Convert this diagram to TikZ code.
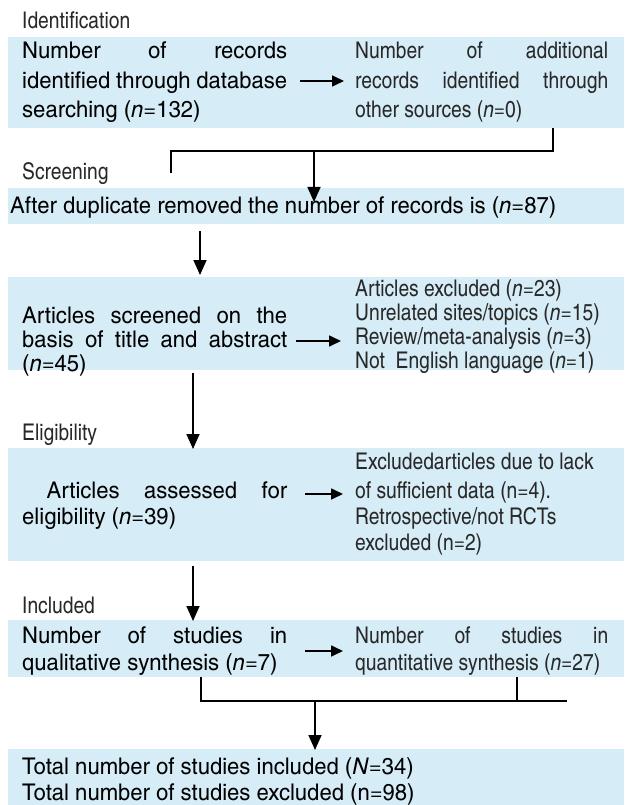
\documentclass[tikz,border=0pt]{standalone}
\usepackage{fontspec}
\setmainfont{texgyreheroscn}[Extension=.otf, UprightFont=*-regular, BoldFont=*-bold, ItalicFont=*-italic, BoldItalicFont=*-bolditalic, FakeStretch=1.17]
\newfontfamily\lightcn{texgyreheroscn}[Extension=.otf, UprightFont=*-regular, BoldFont=*-bold, ItalicFont=*-italic, BoldItalicFont=*-bolditalic, FakeStretch=1.02]
\usetikzlibrary{arrows.meta}
\definecolor{bandblue}{RGB}{214,236,246}
\definecolor{lighttext}{RGB}{40,40,40}
\tikzset{
  band/.style={fill=bandblue, draw=none, inner sep=0pt, minimum width=616pt, anchor=north west},
  txt/.style={anchor=base west, inner sep=0pt, font=\fontsize{23}{23}\selectfont},
  ltxt/.style={anchor=base west, inner sep=0pt, text=lighttext, font=\lightcn\fontsize{23}{23}\selectfont},
  stage/.style={ltxt},
  arr/.style={line width=1.7pt, -{Triangle[length=15pt,width=13pt]}},
  sarr/.style={line width=1.7pt, -{Triangle[length=12pt,width=11pt]}},
  link/.style={line width=1.2pt}
}
\newcommand{\jl}[2]{\makebox[#1][s]{#2}}
\begin{document}
\begin{tikzpicture}[x=1pt,y=-1pt]
\useasboundingbox (0,0) rectangle (624,805);
% bands
\node[band, minimum height=91pt] (b1) at (8,37) {};
\node[band, minimum height=36pt] (b2) at (8,188) {};
\node[band, minimum height=93pt] (b3) at (8,277) {};
\node[band, minimum height=113pt] (b4) at (8,448) {};
\node[band, minimum height=57pt] (b5) at (8,620) {};
\node[band, minimum height=56pt] (b6) at (8,749) {};
% stage labels
\node[stage] (s1) at (22,29) {Identification};
\node[stage] (s2) at (22,179) {Screening};
\node[stage] (s3) at (22,440) {Eligibility};
\node[stage] (s4) at (22,613) {Included};
% band 1
\node[txt] (l11) at (22,59) {\jl{265pt}{Number of records}};
\node[txt] (l12) at (22,89) {\jl{265pt}{identified through database}};
\node[txt] (l13) at (22,118) {searching (\textit{n}=132)};
\node[ltxt] (r11) at (355,59) {\jl{253pt}{Number of additional}};
\node[ltxt] (r12) at (355,89) {\jl{253pt}{records identified through}};
\node[ltxt] (r13) at (355,118) {other sources (\textit{n}=0)};
\coordinate (a1s) at (300,81); \coordinate (a1e) at (344,81);
\draw[sarr] (a1s) -- (a1e);
% connector 1 -> 2
\coordinate (c1a) at (553,128); \coordinate (c1b) at (553,151);
\coordinate (c1c) at (171,151); \coordinate (c1d) at (171,173);
\coordinate (c1m) at (314,151); \coordinate (c1t) at (314,202);
\draw[link] (c1a) -- (c1b) -- (c1c) -- (c1d);
\draw[arr] (c1m) -- (c1t);
% band 2
\node[txt] (t2) at (10,213) {After duplicate removed the number of records is (\textit{n}=87)};
\coordinate (a2s) at (200,231); \coordinate (a2e) at (200,275);
\draw[arr] (a2s) -- (a2e);
% band 3
\node[txt] (l31) at (22,323) {\jl{265pt}{Articles screened on the}};
\node[txt] (l32) at (22,347) {\jl{265pt}{basis of title and abstract}};
\node[txt] (l33) at (22,371) {(\textit{n}=45)};
\node[ltxt] (r31) at (355,296) {Articles excluded (\textit{n}=23)};
\node[ltxt] (r32) at (355,320) {Unrelated sites/topics (\textit{n}=15)};
\node[ltxt] (r33) at (355,344) {Review/meta-analysis (\textit{n}=3)};
\node[ltxt] (r34) at (355,368) {Not\ \ English language (\textit{n}=1)};
\coordinate (a3s) at (296,341); \coordinate (a3e) at (341,341);
\draw[sarr] (a3s) -- (a3e);
\coordinate (a4s) at (193,373); \coordinate (a4e) at (193,449);
\draw[arr] (a4s) -- (a4e);
% band 4
\node[txt] (l41) at (22,498) {\jl{265pt}{\ Articles assessed for}};
\node[txt] (l42) at (22,524) {eligibility (\textit{n}=39)};
\node[ltxt] (r41) at (355,469) {Excludedarticles due to lack};
\node[ltxt] (r42) at (355,498) {of sufficient data (n=4).};
\node[ltxt] (r43) at (355,524) {Retrospective/not RCTs};
\node[ltxt] (r44) at (355,550) {excluded (n=2)};
\coordinate (a5s) at (305,494); \coordinate (a5e) at (343,494);
\draw[sarr] (a5s) -- (a5e);
\coordinate (a6s) at (193,566); \coordinate (a6e) at (193,621);
\draw[arr] (a6s) -- (a6e);
% band 5
\node[txt] (l51) at (22,643) {\jl{265pt}{Number of studies in}};
\node[txt] (l52) at (22,670) {qualitative synthesis (\textit{n}=7)};
\node[ltxt] (r51) at (355,643) {\jl{253pt}{Number of studies in}};
\node[ltxt] (r52) at (355,670) {quantitative synthesis (\textit{n}=27)};
\coordinate (a7s) at (305,651); \coordinate (a7e) at (343,651);
\draw[sarr] (a7s) -- (a7e);
% connector 5 -> 6
\coordinate (c5a) at (201,677); \coordinate (c5b) at (201,701);
\coordinate (c5c) at (567,701);
\coordinate (c5d) at (517,677); \coordinate (c5e) at (517,701);
\coordinate (c5m) at (315,701); \coordinate (c5t) at (315,750);
\draw[link] (c5a) -- (c5b) -- (c5c);
\draw[link] (c5d) -- (c5e);
\draw[arr] (c5m) -- (c5t);
% band 6
\node[txt] (t61) at (22,774) {Total number of studies included (\textit{N}=34)};
\node[txt] (t62) at (22,800) {Total number of studies excluded (n=98)};
\end{tikzpicture}
\end{document}
